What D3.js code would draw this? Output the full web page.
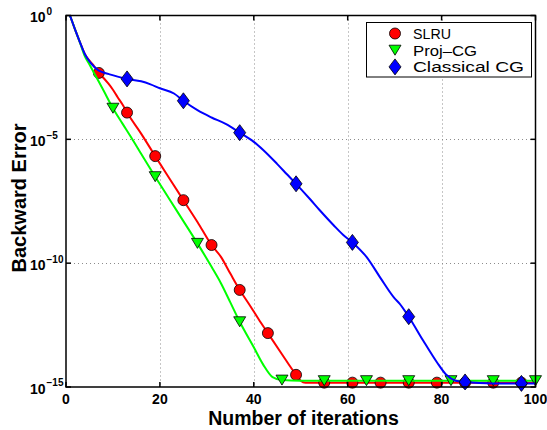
<!DOCTYPE html>
<html>
<head>
<meta charset="utf-8">
<script src="https://cdn.jsdelivr.net/npm/d3@7"></script>
<style>
  html, body { margin: 0; padding: 0; background: #fff; }
  svg { display: block; }
  text { font-family: "Liberation Sans", Arial, Helvetica, sans-serif; }
</style>
</head>
<body>
<svg id="chart" width="547" height="430"></svg>
<script>
// Axis ticks
const iterTicks = [0, 20, 40, 60, 80, 100];
const iterGrid = [20, 40, 60, 80];
const errTicks = [1e0, 1e-5, 1e-10, 1e-15];
const errTickExp = ["0", "\u22125", "\u221210", "\u221215"];
const errGrid = [1e-5, 1e-10];

// Legend entries
const seriesNames = ["SLRU", "Proj\u2013CG", "Classical CG"];

// SLRU: backward error per iteration
const slruIter = [0, 1, 2, 3, 4, 5, 6, 7, 8, 9, 10, 11, 12, 13, 16, 19, 22, 25, 28, 31, 33, 35, 37, 39, 41, 43, 46, 49, 50, 51, 55, 61, 67, 73, 79, 85, 91, 97, 100];
const slruErr = [2.5, 0.83, 0.25, 8.1e-2, 2.8e-2, 1.5e-2, 8.9e-3, 4.8e-3, 3.0e-3, 1.8e-3, 1.0e-3, 5.0e-4, 2.6e-4, 1.2e-4, 1.7e-5, 2.1e-6, 2.7e-7, 3.5e-8, 4.6e-9, 5.4e-10, 1.8e-10, 3.8e-11, 8.3e-12, 2.2e-12, 5.6e-13, 1.5e-13, 2.1e-14, 3.1e-15, 1.8e-15, 1.5e-15, 1.5e-15, 1.5e-15, 1.5e-15, 1.5e-15, 1.5e-15, 1.5e-15, 1.5e-15, 1.5e-15, 1.5e-15];
const slruMarks = [7, 13, 19, 25, 31, 37, 43, 49, 55, 61, 67, 73, 79, 85, 91, 97];

// Proj-CG: backward error per iteration
const projIter = [0, 1, 2, 3, 4, 5, 6, 7, 8, 10, 12, 14, 16, 19, 22, 25, 28, 31, 33, 35, 37, 40, 42, 44, 46, 50, 55, 64, 73, 82, 91, 100];
const projErr = [2.5, 0.83, 0.25, 7.9e-2, 2.3e-2, 1.05e-2, 4.7e-3, 2.1e-3, 9.3e-4, 1.8e-4, 4.4e-5, 1.1e-5, 2.6e-6, 3.1e-7, 3.9e-8, 5.0e-9, 6.3e-10, 7.1e-11, 1.55e-11, 2.6e-12, 4.3e-13, 4.0e-14, 8.0e-15, 2.5e-15, 1.9e-15, 1.8e-15, 1.8e-15, 1.8e-15, 1.8e-15, 1.8e-15, 1.8e-15, 1.8e-15];
const projMarks = [10, 19, 28, 37, 46, 55, 64, 73, 82, 91, 100];

// Classical CG: backward error per iteration
const cgIter = [0, 1, 2, 3, 4, 5, 6, 7, 8, 9, 11, 13, 16, 18, 20, 23, 25, 28, 31, 34, 37, 40, 42, 45, 47, 49, 52, 54, 57, 59, 61, 64, 67, 70, 71, 73, 76, 79, 81, 83, 85, 88, 91, 94, 97, 100];
const cgErr = [2.5, 0.83, 0.25, 8.1e-2, 2.8e-2, 1.4e-2, 8.5e-3, 6.0e-3, 5.0e-3, 4.4e-3, 3.4e-3, 2.75e-3, 2.2e-3, 1.66e-3, 1.15e-3, 7.1e-4, 3.6e-4, 1.5e-4, 7.6e-5, 4.2e-5, 1.86e-5, 7.9e-6, 3.7e-6, 1.0e-6, 4.0e-7, 1.6e-7, 3.8e-8, 1.4e-8, 3.4e-9, 1.4e-9, 6.9e-10, 1.8e-10, 2.5e-11, 3.8e-12, 2.4e-12, 6.9e-13, 7.9e-14, 1.0e-14, 3.1e-15, 1.8e-15, 1.6e-15, 1.45e-15, 1.4e-15, 1.4e-15, 1.4e-15, 1.4e-15];
const cgMarks = [13, 25, 37, 49, 61, 73, 85, 97];

const svg = d3.select("#chart");

const plot = { left: 66, right: 535.5, top: 15.5, bottom: 387 };
const x = d3.scaleLinear().domain([0, 100]).range([plot.left, plot.right]);
const y = d3.scaleLog().domain([1e-15, 1]).range([plot.bottom, plot.top]);

// Marker shapes
const shapes = {
  circle: "M5.5,0A5.5,5.5 0 1,1 -5.5,0A5.5,5.5 0 1,1 5.5,0Z",
  triDown: "M-6,-5L6,-5L0,5Z",
  diamond: "M0,-8L6,0L0,8L-6,0Z"
};

const series = [
  { name: seriesNames[0], iter: slruIter, err: slruErr, marks: slruMarks, color: "#ff0000", shape: shapes.circle },
  { name: seriesNames[1], iter: projIter, err: projErr, marks: projMarks, color: "#00ff00", shape: shapes.triDown },
  { name: seriesNames[2], iter: cgIter, err: cgErr, marks: cgMarks, color: "#0000ff", shape: shapes.diamond }
];

svg.append("defs").append("clipPath").attr("id", "plotClip")
  .append("rect")
  .attr("x", plot.left).attr("y", plot.top)
  .attr("width", plot.right - plot.left).attr("height", plot.bottom - plot.top);

// Dotted grid
const grid = svg.append("g").attr("stroke", "#8c8c8c").attr("stroke-width", 1).attr("stroke-dasharray", "1,3");
grid.selectAll("line.gx").data(iterGrid).join("line")
  .attr("x1", d => Math.round(x(d)) + 0.5).attr("x2", d => Math.round(x(d)) + 0.5)
  .attr("y1", plot.top).attr("y2", plot.bottom);
grid.selectAll("line.gy").data(errGrid).join("line")
  .attr("y1", d => Math.round(y(d)) + 0.5).attr("y2", d => Math.round(y(d)) + 0.5)
  .attr("x1", plot.left).attr("x2", plot.right);

// Curves and markers
const line = d3.line()
  .x(d => x(d[0]))
  .y(d => y(d[1]))
  .curve(d3.curveMonotoneX);

series.forEach(s => {
  const pts = s.iter.map((it, i) => [it, s.err[i]]);
  svg.append("path")
    .attr("clip-path", "url(#plotClip)")
    .attr("d", line(pts))
    .attr("fill", "none")
    .attr("stroke", s.color)
    .attr("stroke-width", 2)
    .attr("stroke-linejoin", "round");
  const markPts = s.marks.map(m => [m, s.err[s.iter.indexOf(m)]]);
  svg.append("g").selectAll("path").data(markPts).join("path")
    .attr("transform", d => `translate(${x(d[0])},${y(d[1])})`)
    .attr("d", s.shape)
    .attr("fill", s.color)
    .attr("stroke", "#000")
    .attr("stroke-width", 0.8);
});

// Axes box and inward ticks
const axes = svg.append("g").attr("stroke", "#000").attr("stroke-width", 1.5).attr("fill", "none");
axes.append("rect")
  .attr("x", plot.left).attr("y", plot.top)
  .attr("width", plot.right - plot.left).attr("height", plot.bottom - plot.top);
const tl = 5;
axes.selectAll("line.xb").data(iterTicks).join("line")
  .attr("x1", d => x(d)).attr("x2", d => x(d))
  .attr("y1", plot.bottom).attr("y2", plot.bottom - tl);
axes.selectAll("line.xt").data(iterTicks).join("line")
  .attr("x1", d => x(d)).attr("x2", d => x(d))
  .attr("y1", plot.top).attr("y2", plot.top + tl);
axes.selectAll("line.yl").data(errTicks).join("line")
  .attr("y1", d => y(d)).attr("y2", d => y(d))
  .attr("x1", plot.left).attr("x2", plot.left + tl);
axes.selectAll("line.yr").data(errTicks).join("line")
  .attr("y1", d => y(d)).attr("y2", d => y(d))
  .attr("x1", plot.right).attr("x2", plot.right - tl);

// X tick labels
svg.append("g").selectAll("text").data(iterTicks).join("text")
  .attr("x", d => x(d)).attr("y", 404)
  .attr("text-anchor", "middle")
  .attr("font-size", 14).attr("font-weight", "bold")
  .text(d => d);

// Y tick labels as 10 with superscript exponent
const yLab = svg.append("g").attr("font-weight", "bold");
errTicks.forEach((t, i) => {
  yLab.append("text")
    .attr("x", 45.5).attr("y", y(t) + 6.7)
    .attr("text-anchor", "end").attr("font-size", 14)
    .text("10");
  yLab.append("text")
    .attr("x", 46.5).attr("y", y(t) - 0.6)
    .attr("text-anchor", "start").attr("font-size", 10)
    .text(errTickExp[i]);
});

// Axis titles
svg.append("text")
  .attr("x", 303.5).attr("y", 424.5)
  .attr("text-anchor", "middle")
  .attr("font-size", 19.5).attr("font-weight", "bold")
  .text("Number of iterations");
svg.append("text")
  .attr("transform", "translate(25.5,198) rotate(-90)")
  .attr("text-anchor", "middle")
  .attr("font-size", 20).attr("font-weight", "bold")
  .text("Backward Error");

// Legend
const legend = svg.append("g");
legend.append("rect")
  .attr("x", 366.5).attr("y", 22.5)
  .attr("width", 165).attr("height", 54.5)
  .attr("fill", "#fff").attr("stroke", "#000").attr("stroke-width", 1);
const legendWidths = [38, 64, 111];
series.forEach((s, i) => {
  const cy = 33.5 + i * 16.7;
  legend.append("path")
    .attr("transform", `translate(395,${cy})`)
    .attr("d", s.shape)
    .attr("fill", s.color).attr("stroke", "#000").attr("stroke-width", 0.8);
  legend.append("text")
    .attr("x", 413).attr("y", cy + 5.5)
    .attr("font-size", 15.5)
    .attr("textLength", legendWidths[i])
    .attr("lengthAdjust", "spacingAndGlyphs")
    .text(s.name);
});
</script>
</body>
</html>
